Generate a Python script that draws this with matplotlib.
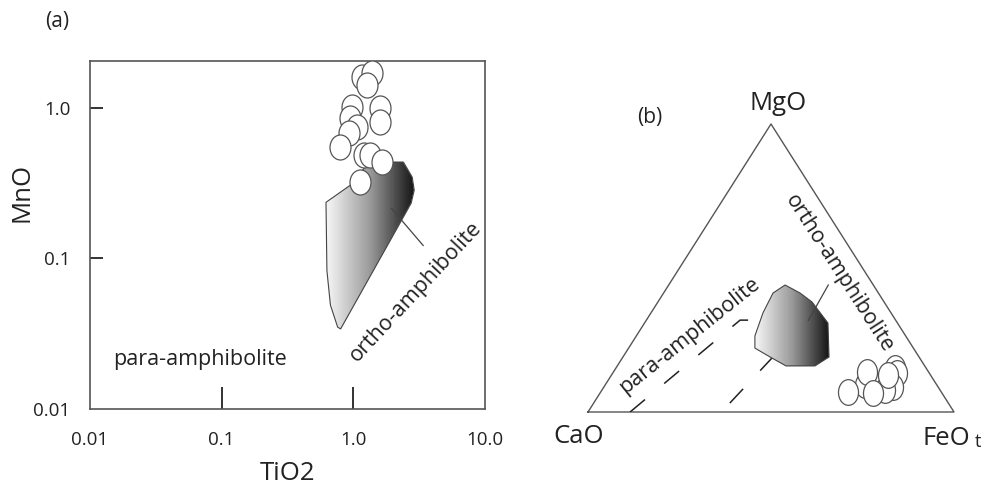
import numpy as np
import matplotlib
matplotlib.use("Agg")
import matplotlib.pyplot as plt
import matplotlib.transforms as mtransforms
from matplotlib.colors import LinearSegmentedColormap
from matplotlib.patches import Polygon
from matplotlib.path import Path

plt.rcParams["font.family"] = ["Open Sans", "DejaVu Sans"]
plt.rcParams["lines.scale_dashes"] = False

# ---- (a) TiO2 vs MnO, log-log ----
tio2_samples = [1.17, 1.39, 1.27, 0.98, 1.59, 1.59, 0.95, 1.07, 0.93, 0.79, 1.21, 1.34, 1.64, 1.13]
mno_samples = [1.61, 1.71, 1.42, 1.02, 1.00, 0.81, 0.86, 0.75, 0.68, 0.55, 0.49, 0.49, 0.44, 0.32]
ortho_field_tio2 = [0.62, 0.95, 1.32, 2.40, 2.80, 2.90, 2.75, 0.80, 0.76, 0.67, 0.63]
ortho_field_mno = [0.236, 0.307, 0.437, 0.437, 0.347, 0.284, 0.233, 0.034, 0.035, 0.049, 0.083]
ortho_pointer_tio2 = [1.95, 3.39]
ortho_pointer_mno = [0.215, 0.122]
x_ticks = [0.01, 0.1, 1.0, 10.0]
x_tick_labels = ["0.01", "0.1", "1.0", "10.0"]
y_ticks = [0.01, 0.1, 1.0]
y_tick_labels = ["0.01", "0.1", "1.0"]

# ---- (b) CaO - MgO - FeOt ternary (fractions) ----
tern_cao = [0.085, 0.088, 0.123, 0.151, 0.196, 0.168, 0.255, 0.188, 0.117]
tern_mgo = [0.153, 0.135, 0.087, 0.076, 0.094, 0.139, 0.069, 0.066, 0.128]
tern_feo = [0.762, 0.777, 0.790, 0.773, 0.710, 0.693, 0.676, 0.746, 0.755]
field_cao = [0.288, 0.241, 0.214, 0.197, 0.190, 0.246, 0.300, 0.379, 0.407, 0.433, 0.412, 0.350]
field_mgo = [0.413, 0.441, 0.413, 0.382, 0.309, 0.191, 0.160, 0.160, 0.191, 0.222, 0.264, 0.344]
field_feo = [0.299, 0.318, 0.373, 0.421, 0.501, 0.563, 0.540, 0.461, 0.402, 0.345, 0.324, 0.306]
pointer_cao = [0.123, 0.239]
pointer_mgo = [0.441, 0.318]
pointer_feo = [0.436, 0.443]
para_line1_cao = [0.885, 0.425, 0.403]
para_line1_mgo = [0.0, 0.319, 0.319]
para_line1_feo = [0.115, 0.256, 0.278]
para_line2_cao = [0.597, 0.403]
para_line2_mgo = [0.031, 0.188]
para_line2_feo = [0.372, 0.409]

W, H = 986, 486
EDGE = "#555555"
INK = "#222222"
grad_cmap = LinearSegmentedColormap.from_list("shade", ["#f6f6f6", "#9a9a9a", "#151515"])


def fxy(px, py):
    return px / W, 1 - py / H


def ternary_xy(ca, mg, fe):
    ca, mg, fe = (np.asarray(v, dtype=float) for v in (ca, mg, fe))
    tot = ca + mg + fe
    return (fe + mg / 2) / tot, mg / tot


def ellipse_marker(ratio):
    return Path.unit_circle().transformed(mtransforms.Affine2D().scale(ratio, 1.0))


def gradient_polygon(ax, xs, ys, log_x=False):
    poly = Polygon(np.column_stack([xs, ys]), closed=True, facecolor="none",
                   edgecolor="#444444", lw=0.8, zorder=3)
    ax.add_patch(poly)
    if log_x:
        gx = np.geomspace(min(xs), max(xs), 160)
    else:
        gx = np.linspace(min(xs), max(xs), 160)
    gy = [min(ys), max(ys)]
    c = np.linspace(0, 1, len(gx) - 1)[None, :]
    mesh = ax.pcolormesh(gx, gy, c, cmap=grad_cmap, shading="flat",
                         antialiased=False, linewidth=0, zorder=2)
    mesh.set_clip_path(poly)
    return poly


fig = plt.figure(figsize=(W / 100, H / 100), dpi=100)

# ================= panel (a) =================
ax = fig.add_axes([90 / W, (H - 409) / H, 395 / W, 348 / H])
ax.set_xscale("log")
ax.set_yscale("log")

gradient_polygon(ax, ortho_field_tio2, ortho_field_mno, log_x=True)
ax.plot(ortho_pointer_tio2, ortho_pointer_mno, color="#444444", lw=0.9, zorder=3)
ax.scatter(tio2_samples, mno_samples, marker=ellipse_marker(0.84), s=18 ** 2,
           facecolor="white", edgecolor=EDGE, linewidth=0.9, zorder=4)

ax.set_xlim(0.01, 10)
ax.set_ylim(0.01, 2.05)
ax.minorticks_off()
ax.set_xticks(x_ticks)
ax.set_xticklabels(x_tick_labels)
ax.set_yticks(y_ticks)
ax.set_yticklabels(y_tick_labels)
ax.tick_params(axis="x", direction="in", length=15.5, width=1.4, color="#333333",
               pad=16, labelsize=13.5, labelcolor=INK)
ax.tick_params(axis="y", direction="in", length=9, width=1.4, color="#333333",
               pad=14, labelsize=13.5, labelcolor=INK)
for i, t in enumerate(ax.xaxis.get_major_ticks()):
    if i in (0, len(x_ticks) - 1):
        t.tick1line.set_visible(False)
for i, t in enumerate(ax.yaxis.get_major_ticks()):
    if i == 0:
        t.tick1line.set_visible(False)
for sp in ax.spines.values():
    sp.set_color(EDGE)
    sp.set_linewidth(1.2)

ax.text((200 - 90) / 395, (409 - 360) / 348, "para-amphibolite", transform=ax.transAxes,
        ha="center", va="center", fontsize=15.5, color=INK)
ax.text((416 - 90) / 395, (409 - 292) / 348, "ortho-amphibolite", transform=ax.transAxes,
        ha="center", va="center", rotation=47, fontsize=15.5, color=INK)

fig.text(*fxy(57, 22), "(a)", ha="center", va="center", fontsize=15, color=INK)
fig.text(*fxy(22, 192), "MnO", ha="center", va="center", rotation=90, fontsize=18.5, color=INK)
fig.text(*fxy(287, 473), "TiO2", ha="center", va="center", fontsize=18.5, color=INK)

# ================= panel (b) =================
bx = fig.add_axes([588 / W, (H - 412) / H, 366 / W, 288 / H])
bx.set_xlim(0, 1)
bx.set_ylim(0, 1)
bx.axis("off")

tri_x, tri_y = ternary_xy([1, 0, 0, 1], [0, 1, 0, 0], [0, 0, 1, 0])
bx.plot(tri_x, tri_y, color=EDGE, lw=1.0, clip_on=False, zorder=1)

fx, fy = ternary_xy(field_cao, field_mgo, field_feo)
gradient_polygon(bx, fx, fy)

for ca, mg, fe in [(para_line1_cao, para_line1_mgo, para_line1_feo),
                   (para_line2_cao, para_line2_mgo, para_line2_feo)]:
    lx, ly = ternary_xy(ca, mg, fe)
    bx.plot(lx, ly, color=INK, lw=1.1, dashes=(14, 18), zorder=1)

px_, py_ = ternary_xy(pointer_cao, pointer_mgo, pointer_feo)
bx.plot(px_, py_, color="#444444", lw=0.9, zorder=4)

sx, sy = ternary_xy(tern_cao, tern_mgo, tern_feo)
bx.scatter(sx, sy, marker=ellipse_marker(0.78), s=18.5 ** 2,
           facecolor="white", edgecolor=EDGE, linewidth=0.9, zorder=4)

fig.text(*fxy(650, 117), "(b)", ha="center", va="center", fontsize=15, color=INK)
fig.text(*fxy(778, 103), "MgO", ha="center", va="center", fontsize=18.5, color=INK)
fig.text(*fxy(579, 436), "CaO", ha="center", va="center", fontsize=18.5, color=INK)
fig.text(*fxy(946, 438), "FeO", ha="center", va="center", fontsize=18.5, color=INK)
fig.text(*fxy(978, 442), "t", ha="center", va="center", fontsize=13, color=INK)
fig.text(*fxy(689, 336), "para-amphibolite", ha="center", va="center",
         rotation=38.6, fontsize=15.5, color=INK)
fig.text(*fxy(839, 273), "ortho-amphibolite", ha="center", va="center",
         rotation=-57.3, fontsize=15.5, color=INK)

fig.savefig("out.png", dpi=100, facecolor="white")
